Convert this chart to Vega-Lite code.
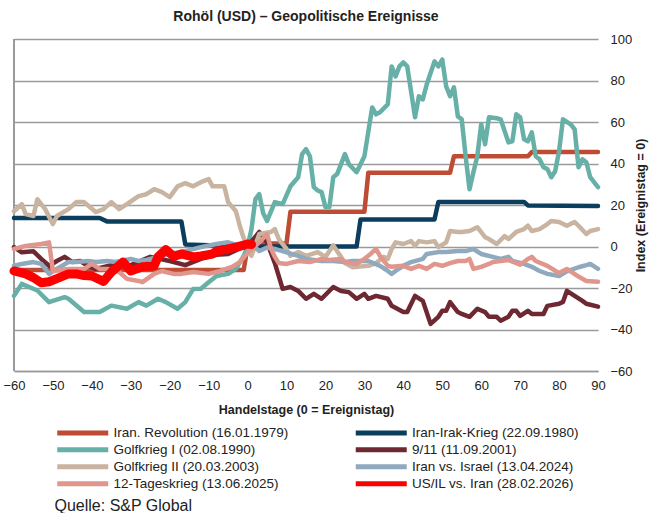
{
  "$schema": "https://vega.github.io/schema/vega-lite/v6.json",
  "width": 584,
  "height": 332,
  "autosize": {"type": "none"},
  "padding": {"left": 14, "top": 39, "right": 52, "bottom": 142},
  "background": "white",
  "config": {"view": {"stroke": null}, "font": "Liberation Sans"},
  "title": {"text": "Rohöl (USD) – Geopolitische Ereignisse", "fontSize": 14, "fontWeight": "bold", "color": "#222222", "anchor": "middle", "offset": 9},
  "datasets": {
    "rows": [
      {"s":"Iran. Revolution (16.01.1979)","d":-60,"v":-11.3},{"s":"Iran. Revolution (16.01.1979)","d":-1,"v":-11.3},{"s":"Iran. Revolution (16.01.1979)","d":0,"v":0},{"s":"Iran. Revolution (16.01.1979)","d":1,"v":1.5},{"s":"Iran. Revolution (16.01.1979)","d":10,"v":1.5},{"s":"Iran. Revolution (16.01.1979)","d":11,"v":16.7},{"s":"Iran. Revolution (16.01.1979)","d":30,"v":16.7},{"s":"Iran. Revolution (16.01.1979)","d":31,"v":35.5},{"s":"Iran. Revolution (16.01.1979)","d":52,"v":35.5},{"s":"Iran. Revolution (16.01.1979)","d":53,"v":43.5},{"s":"Iran. Revolution (16.01.1979)","d":72,"v":43.5},{"s":"Iran. Revolution (16.01.1979)","d":73,"v":45.5},{"s":"Iran. Revolution (16.01.1979)","d":90,"v":45.5},

      {"s":"Iran-Irak-Krieg (22.09.1980)","d":-60,"v":13.7},{"s":"Iran-Irak-Krieg (22.09.1980)","d":-38,"v":13.7},{"s":"Iran-Irak-Krieg (22.09.1980)","d":-36,"v":12},{"s":"Iran-Irak-Krieg (22.09.1980)","d":-17,"v":12},{"s":"Iran-Irak-Krieg (22.09.1980)","d":-16,"v":1},{"s":"Iran-Irak-Krieg (22.09.1980)","d":0,"v":0},{"s":"Iran-Irak-Krieg (22.09.1980)","d":28,"v":0},{"s":"Iran-Irak-Krieg (22.09.1980)","d":29,"v":13},{"s":"Iran-Irak-Krieg (22.09.1980)","d":48,"v":13},{"s":"Iran-Irak-Krieg (22.09.1980)","d":49,"v":21.5},{"s":"Iran-Irak-Krieg (22.09.1980)","d":71,"v":21.5},{"s":"Iran-Irak-Krieg (22.09.1980)","d":72,"v":19.8},{"s":"Iran-Irak-Krieg (22.09.1980)","d":90,"v":19.5},

      {"s":"Golfkrieg I (02.08.1990)","d":-60,"v":-23.8},{"s":"Golfkrieg I (02.08.1990)","d":-58,"v":-18},{"s":"Golfkrieg I (02.08.1990)","d":-54,"v":-21.2},{"s":"Golfkrieg I (02.08.1990)","d":-51,"v":-26.8},{"s":"Golfkrieg I (02.08.1990)","d":-47,"v":-24.4},{"s":"Golfkrieg I (02.08.1990)","d":-46,"v":-25.2},{"s":"Golfkrieg I (02.08.1990)","d":-42,"v":-31.6},{"s":"Golfkrieg I (02.08.1990)","d":-38,"v":-31.6},{"s":"Golfkrieg I (02.08.1990)","d":-35,"v":-28.5},{"s":"Golfkrieg I (02.08.1990)","d":-31,"v":-30},{"s":"Golfkrieg I (02.08.1990)","d":-28,"v":-26.8},{"s":"Golfkrieg I (02.08.1990)","d":-26,"v":-28.5},{"s":"Golfkrieg I (02.08.1990)","d":-23,"v":-25.2},{"s":"Golfkrieg I (02.08.1990)","d":-21,"v":-26.8},{"s":"Golfkrieg I (02.08.1990)","d":-18,"v":-30},{"s":"Golfkrieg I (02.08.1990)","d":-16,"v":-26.8},{"s":"Golfkrieg I (02.08.1990)","d":-14,"v":-20.5},{"s":"Golfkrieg I (02.08.1990)","d":-12,"v":-20.4},{"s":"Golfkrieg I (02.08.1990)","d":-10,"v":-17.2},{"s":"Golfkrieg I (02.08.1990)","d":-8,"v":-14.2},{"s":"Golfkrieg I (02.08.1990)","d":-5,"v":-13.2},{"s":"Golfkrieg I (02.08.1990)","d":-3,"v":-10.8},{"s":"Golfkrieg I (02.08.1990)","d":-1,"v":-4.5},{"s":"Golfkrieg I (02.08.1990)","d":0,"v":0},{"s":"Golfkrieg I (02.08.1990)","d":1,"v":8.4},{"s":"Golfkrieg I (02.08.1990)","d":2,"v":22.8},{"s":"Golfkrieg I (02.08.1990)","d":3,"v":25.2},{"s":"Golfkrieg I (02.08.1990)","d":4,"v":16},{"s":"Golfkrieg I (02.08.1990)","d":5,"v":12.3},{"s":"Golfkrieg I (02.08.1990)","d":7,"v":21.4},{"s":"Golfkrieg I (02.08.1990)","d":9,"v":20.4},{"s":"Golfkrieg I (02.08.1990)","d":11,"v":29},{"s":"Golfkrieg I (02.08.1990)","d":13,"v":33.4},{"s":"Golfkrieg I (02.08.1990)","d":14,"v":44.5},{"s":"Golfkrieg I (02.08.1990)","d":15,"v":46.9},{"s":"Golfkrieg I (02.08.1990)","d":16,"v":43.5},{"s":"Golfkrieg I (02.08.1990)","d":17,"v":28.6},{"s":"Golfkrieg I (02.08.1990)","d":18,"v":27},{"s":"Golfkrieg I (02.08.1990)","d":19,"v":26.2},{"s":"Golfkrieg I (02.08.1990)","d":20,"v":19},{"s":"Golfkrieg I (02.08.1990)","d":21,"v":19},{"s":"Golfkrieg I (02.08.1990)","d":22,"v":33.4},{"s":"Golfkrieg I (02.08.1990)","d":23,"v":34.9},{"s":"Golfkrieg I (02.08.1990)","d":25,"v":44.5},{"s":"Golfkrieg I (02.08.1990)","d":26,"v":39.7},{"s":"Golfkrieg I (02.08.1990)","d":28,"v":35.8},{"s":"Golfkrieg I (02.08.1990)","d":30,"v":43.5},{"s":"Golfkrieg I (02.08.1990)","d":32,"v":67},{"s":"Golfkrieg I (02.08.1990)","d":33,"v":63.7},{"s":"Golfkrieg I (02.08.1990)","d":34,"v":64.7},{"s":"Golfkrieg I (02.08.1990)","d":36,"v":68.5},{"s":"Golfkrieg I (02.08.1990)","d":37,"v":86.8},{"s":"Golfkrieg I (02.08.1990)","d":38,"v":82},{"s":"Golfkrieg I (02.08.1990)","d":39,"v":86.8},{"s":"Golfkrieg I (02.08.1990)","d":40,"v":88.7},{"s":"Golfkrieg I (02.08.1990)","d":41,"v":86.8},{"s":"Golfkrieg I (02.08.1990)","d":43,"v":62.3},{"s":"Golfkrieg I (02.08.1990)","d":44,"v":72.4},{"s":"Golfkrieg I (02.08.1990)","d":45,"v":70.9},{"s":"Golfkrieg I (02.08.1990)","d":46,"v":78.1},{"s":"Golfkrieg I (02.08.1990)","d":48,"v":89.2},{"s":"Golfkrieg I (02.08.1990)","d":49,"v":86.8},{"s":"Golfkrieg I (02.08.1990)","d":50,"v":90.1},{"s":"Golfkrieg I (02.08.1990)","d":51,"v":77.2},{"s":"Golfkrieg I (02.08.1990)","d":52,"v":72.4},{"s":"Golfkrieg I (02.08.1990)","d":53,"v":76.7},{"s":"Golfkrieg I (02.08.1990)","d":54,"v":62.7},{"s":"Golfkrieg I (02.08.1990)","d":55,"v":61.3},{"s":"Golfkrieg I (02.08.1990)","d":56,"v":43.5},{"s":"Golfkrieg I (02.08.1990)","d":57,"v":27.6},{"s":"Golfkrieg I (02.08.1990)","d":58,"v":35.8},{"s":"Golfkrieg I (02.08.1990)","d":59,"v":43.5},{"s":"Golfkrieg I (02.08.1990)","d":60,"v":58.9},{"s":"Golfkrieg I (02.08.1990)","d":61,"v":49.3},{"s":"Golfkrieg I (02.08.1990)","d":62,"v":62.3},{"s":"Golfkrieg I (02.08.1990)","d":64,"v":61.8},{"s":"Golfkrieg I (02.08.1990)","d":65,"v":61.3},{"s":"Golfkrieg I (02.08.1990)","d":67,"v":50.2},{"s":"Golfkrieg I (02.08.1990)","d":68,"v":50.7},{"s":"Golfkrieg I (02.08.1990)","d":69,"v":63.7},{"s":"Golfkrieg I (02.08.1990)","d":70,"v":62.3},{"s":"Golfkrieg I (02.08.1990)","d":71,"v":51.7},{"s":"Golfkrieg I (02.08.1990)","d":72,"v":50.7},{"s":"Golfkrieg I (02.08.1990)","d":73,"v":55},{"s":"Golfkrieg I (02.08.1990)","d":74,"v":43.5},{"s":"Golfkrieg I (02.08.1990)","d":75,"v":42},{"s":"Golfkrieg I (02.08.1990)","d":76,"v":38.2},{"s":"Golfkrieg I (02.08.1990)","d":77,"v":37.3},{"s":"Golfkrieg I (02.08.1990)","d":78,"v":33.4},{"s":"Golfkrieg I (02.08.1990)","d":79,"v":36.3},{"s":"Golfkrieg I (02.08.1990)","d":80,"v":45.9},{"s":"Golfkrieg I (02.08.1990)","d":81,"v":61.3},{"s":"Golfkrieg I (02.08.1990)","d":83,"v":58.9},{"s":"Golfkrieg I (02.08.1990)","d":84,"v":56.5},{"s":"Golfkrieg I (02.08.1990)","d":85,"v":38.2},{"s":"Golfkrieg I (02.08.1990)","d":86,"v":42},{"s":"Golfkrieg I (02.08.1990)","d":87,"v":40.6},{"s":"Golfkrieg I (02.08.1990)","d":88,"v":33.4},{"s":"Golfkrieg I (02.08.1990)","d":90,"v":28.6},

      {"s":"9/11 (11.09.2001)","d":-60,"v":-0.3},{"s":"9/11 (11.09.2001)","d":-58,"v":-2.8},{"s":"9/11 (11.09.2001)","d":-55,"v":-2.3},{"s":"9/11 (11.09.2001)","d":-53,"v":-6},{"s":"9/11 (11.09.2001)","d":-51,"v":-9.3},{"s":"9/11 (11.09.2001)","d":-49,"v":-7},{"s":"9/11 (11.09.2001)","d":-47,"v":-5},{"s":"9/11 (11.09.2001)","d":-45,"v":-7.5},{"s":"9/11 (11.09.2001)","d":-43,"v":-7},{"s":"9/11 (11.09.2001)","d":-41,"v":-9.3},{"s":"9/11 (11.09.2001)","d":-39,"v":-10.8},{"s":"9/11 (11.09.2001)","d":-35,"v":-9},{"s":"9/11 (11.09.2001)","d":-30,"v":-9},{"s":"9/11 (11.09.2001)","d":-25,"v":-5},{"s":"9/11 (11.09.2001)","d":-20,"v":-7},{"s":"9/11 (11.09.2001)","d":-16,"v":-9},{"s":"9/11 (11.09.2001)","d":-12,"v":-6},{"s":"9/11 (11.09.2001)","d":-8,"v":-4},{"s":"9/11 (11.09.2001)","d":-5,"v":-3.6},{"s":"9/11 (11.09.2001)","d":-2,"v":-1},{"s":"9/11 (11.09.2001)","d":0,"v":0},{"s":"9/11 (11.09.2001)","d":3,"v":7},{"s":"9/11 (11.09.2001)","d":5,"v":2},{"s":"9/11 (11.09.2001)","d":7,"v":-8},{"s":"9/11 (11.09.2001)","d":9,"v":-20.4},{"s":"9/11 (11.09.2001)","d":11,"v":-19.5},{"s":"9/11 (11.09.2001)","d":13,"v":-21.4},{"s":"9/11 (11.09.2001)","d":15,"v":-25.2},{"s":"9/11 (11.09.2001)","d":17,"v":-22.8},{"s":"9/11 (11.09.2001)","d":19,"v":-25.2},{"s":"9/11 (11.09.2001)","d":22,"v":-19.5},{"s":"9/11 (11.09.2001)","d":24,"v":-21.4},{"s":"9/11 (11.09.2001)","d":26,"v":-22},{"s":"9/11 (11.09.2001)","d":28,"v":-25.2},{"s":"9/11 (11.09.2001)","d":30,"v":-22.8},{"s":"9/11 (11.09.2001)","d":31,"v":-25.2},{"s":"9/11 (11.09.2001)","d":33,"v":-23.8},{"s":"9/11 (11.09.2001)","d":36,"v":-25.2},{"s":"9/11 (11.09.2001)","d":37,"v":-28.6},{"s":"9/11 (11.09.2001)","d":40,"v":-31.6},{"s":"9/11 (11.09.2001)","d":41,"v":-31.6},{"s":"9/11 (11.09.2001)","d":43,"v":-23.8},{"s":"9/11 (11.09.2001)","d":45,"v":-26.2},{"s":"9/11 (11.09.2001)","d":47,"v":-37.3},{"s":"9/11 (11.09.2001)","d":49,"v":-33.9},{"s":"9/11 (11.09.2001)","d":50,"v":-31},{"s":"9/11 (11.09.2001)","d":51,"v":-31},{"s":"9/11 (11.09.2001)","d":52,"v":-26.8},{"s":"9/11 (11.09.2001)","d":54,"v":-31.6},{"s":"9/11 (11.09.2001)","d":55,"v":-32.5},{"s":"9/11 (11.09.2001)","d":57,"v":-33.9},{"s":"9/11 (11.09.2001)","d":59,"v":-30},{"s":"9/11 (11.09.2001)","d":61,"v":-31.6},{"s":"9/11 (11.09.2001)","d":62,"v":-33.9},{"s":"9/11 (11.09.2001)","d":64,"v":-33.9},{"s":"9/11 (11.09.2001)","d":65,"v":-35.8},{"s":"9/11 (11.09.2001)","d":67,"v":-33.9},{"s":"9/11 (11.09.2001)","d":68,"v":-31},{"s":"9/11 (11.09.2001)","d":69,"v":-31},{"s":"9/11 (11.09.2001)","d":70,"v":-33.4},{"s":"9/11 (11.09.2001)","d":72,"v":-31},{"s":"9/11 (11.09.2001)","d":73,"v":-32.5},{"s":"9/11 (11.09.2001)","d":76,"v":-32.5},{"s":"9/11 (11.09.2001)","d":77,"v":-28.6},{"s":"9/11 (11.09.2001)","d":80,"v":-27.6},{"s":"9/11 (11.09.2001)","d":81,"v":-26.7},{"s":"9/11 (11.09.2001)","d":82,"v":-21.4},{"s":"9/11 (11.09.2001)","d":84,"v":-23.8},{"s":"9/11 (11.09.2001)","d":86,"v":-26.2},{"s":"9/11 (11.09.2001)","d":87,"v":-27.6},{"s":"9/11 (11.09.2001)","d":90,"v":-29},

      {"s":"Golfkrieg II (20.03.2003)","d":-60,"v":17},{"s":"Golfkrieg II (20.03.2003)","d":-58,"v":20.4},{"s":"Golfkrieg II (20.03.2003)","d":-57,"v":15.6},{"s":"Golfkrieg II (20.03.2003)","d":-55,"v":14.7},{"s":"Golfkrieg II (20.03.2003)","d":-54,"v":22.8},{"s":"Golfkrieg II (20.03.2003)","d":-52,"v":18},{"s":"Golfkrieg II (20.03.2003)","d":-50,"v":10.8},{"s":"Golfkrieg II (20.03.2003)","d":-49,"v":14.7},{"s":"Golfkrieg II (20.03.2003)","d":-46,"v":18},{"s":"Golfkrieg II (20.03.2003)","d":-44,"v":21.4},{"s":"Golfkrieg II (20.03.2003)","d":-42,"v":21.4},{"s":"Golfkrieg II (20.03.2003)","d":-39,"v":16.6},{"s":"Golfkrieg II (20.03.2003)","d":-37,"v":18},{"s":"Golfkrieg II (20.03.2003)","d":-35,"v":21.4},{"s":"Golfkrieg II (20.03.2003)","d":-33,"v":18},{"s":"Golfkrieg II (20.03.2003)","d":-31,"v":20.4},{"s":"Golfkrieg II (20.03.2003)","d":-28,"v":24.3},{"s":"Golfkrieg II (20.03.2003)","d":-26,"v":25.2},{"s":"Golfkrieg II (20.03.2003)","d":-24,"v":27.6},{"s":"Golfkrieg II (20.03.2003)","d":-22,"v":26.2},{"s":"Golfkrieg II (20.03.2003)","d":-20,"v":23.8},{"s":"Golfkrieg II (20.03.2003)","d":-18,"v":29},{"s":"Golfkrieg II (20.03.2003)","d":-16,"v":30.5},{"s":"Golfkrieg II (20.03.2003)","d":-14,"v":29},{"s":"Golfkrieg II (20.03.2003)","d":-12,"v":31},{"s":"Golfkrieg II (20.03.2003)","d":-10,"v":32.5},{"s":"Golfkrieg II (20.03.2003)","d":-9,"v":29},{"s":"Golfkrieg II (20.03.2003)","d":-6,"v":29},{"s":"Golfkrieg II (20.03.2003)","d":-5,"v":21.4},{"s":"Golfkrieg II (20.03.2003)","d":-3,"v":17},{"s":"Golfkrieg II (20.03.2003)","d":-2,"v":9.9},{"s":"Golfkrieg II (20.03.2003)","d":-1,"v":4},{"s":"Golfkrieg II (20.03.2003)","d":0,"v":0},{"s":"Golfkrieg II (20.03.2003)","d":1,"v":-4.5},{"s":"Golfkrieg II (20.03.2003)","d":3,"v":6},{"s":"Golfkrieg II (20.03.2003)","d":6,"v":7},{"s":"Golfkrieg II (20.03.2003)","d":7,"v":8.4},{"s":"Golfkrieg II (20.03.2003)","d":8,"v":3.6},{"s":"Golfkrieg II (20.03.2003)","d":10,"v":-1.2},{"s":"Golfkrieg II (20.03.2003)","d":11,"v":-4.5},{"s":"Golfkrieg II (20.03.2003)","d":13,"v":-2.7},{"s":"Golfkrieg II (20.03.2003)","d":15,"v":-4.5},{"s":"Golfkrieg II (20.03.2003)","d":18,"v":-2.7},{"s":"Golfkrieg II (20.03.2003)","d":20,"v":-5},{"s":"Golfkrieg II (20.03.2003)","d":22,"v":0.5},{"s":"Golfkrieg II (20.03.2003)","d":24,"v":-5},{"s":"Golfkrieg II (20.03.2003)","d":25,"v":-8},{"s":"Golfkrieg II (20.03.2003)","d":27,"v":-10},{"s":"Golfkrieg II (20.03.2003)","d":31,"v":-9.3},{"s":"Golfkrieg II (20.03.2003)","d":33,"v":-8},{"s":"Golfkrieg II (20.03.2003)","d":35,"v":-5},{"s":"Golfkrieg II (20.03.2003)","d":36,"v":-6},{"s":"Golfkrieg II (20.03.2003)","d":37,"v":-1.2},{"s":"Golfkrieg II (20.03.2003)","d":38,"v":2},{"s":"Golfkrieg II (20.03.2003)","d":40,"v":1.2},{"s":"Golfkrieg II (20.03.2003)","d":42,"v":2.6},{"s":"Golfkrieg II (20.03.2003)","d":43,"v":0.3},{"s":"Golfkrieg II (20.03.2003)","d":44,"v":2.6},{"s":"Golfkrieg II (20.03.2003)","d":46,"v":2},{"s":"Golfkrieg II (20.03.2003)","d":48,"v":2.6},{"s":"Golfkrieg II (20.03.2003)","d":49,"v":-0.3},{"s":"Golfkrieg II (20.03.2003)","d":51,"v":2},{"s":"Golfkrieg II (20.03.2003)","d":52,"v":7.5},{"s":"Golfkrieg II (20.03.2003)","d":54,"v":7},{"s":"Golfkrieg II (20.03.2003)","d":55,"v":7},{"s":"Golfkrieg II (20.03.2003)","d":57,"v":7.5},{"s":"Golfkrieg II (20.03.2003)","d":59,"v":9.3},{"s":"Golfkrieg II (20.03.2003)","d":61,"v":4.5},{"s":"Golfkrieg II (20.03.2003)","d":62,"v":3.6},{"s":"Golfkrieg II (20.03.2003)","d":64,"v":1.2},{"s":"Golfkrieg II (20.03.2003)","d":66,"v":5},{"s":"Golfkrieg II (20.03.2003)","d":67,"v":3.6},{"s":"Golfkrieg II (20.03.2003)","d":69,"v":7},{"s":"Golfkrieg II (20.03.2003)","d":71,"v":8.4},{"s":"Golfkrieg II (20.03.2003)","d":72,"v":10},{"s":"Golfkrieg II (20.03.2003)","d":73,"v":7.5},{"s":"Golfkrieg II (20.03.2003)","d":75,"v":8.4},{"s":"Golfkrieg II (20.03.2003)","d":77,"v":10.8},{"s":"Golfkrieg II (20.03.2003)","d":78,"v":12.3},{"s":"Golfkrieg II (20.03.2003)","d":80,"v":11.8},{"s":"Golfkrieg II (20.03.2003)","d":82,"v":10},{"s":"Golfkrieg II (20.03.2003)","d":84,"v":11.8},{"s":"Golfkrieg II (20.03.2003)","d":85,"v":10},{"s":"Golfkrieg II (20.03.2003)","d":87,"v":6},{"s":"Golfkrieg II (20.03.2003)","d":88,"v":7.5},{"s":"Golfkrieg II (20.03.2003)","d":90,"v":8.4},

      {"s":"Iran vs. Israel (13.04.2024)","d":-60,"v":-9.3},{"s":"Iran vs. Israel (13.04.2024)","d":-58,"v":-8.4},{"s":"Iran vs. Israel (13.04.2024)","d":-55,"v":-7.5},{"s":"Iran vs. Israel (13.04.2024)","d":-53,"v":-8.4},{"s":"Iran vs. Israel (13.04.2024)","d":-51,"v":-13.2},{"s":"Iran vs. Israel (13.04.2024)","d":-49,"v":-10.8},{"s":"Iran vs. Israel (13.04.2024)","d":-46,"v":-7.5},{"s":"Iran vs. Israel (13.04.2024)","d":-44,"v":-7.5},{"s":"Iran vs. Israel (13.04.2024)","d":-41,"v":-7},{"s":"Iran vs. Israel (13.04.2024)","d":-39,"v":-7.5},{"s":"Iran vs. Israel (13.04.2024)","d":-36,"v":-7},{"s":"Iran vs. Israel (13.04.2024)","d":-34,"v":-7.5},{"s":"Iran vs. Israel (13.04.2024)","d":-30,"v":-6},{"s":"Iran vs. Israel (13.04.2024)","d":-28,"v":-7},{"s":"Iran vs. Israel (13.04.2024)","d":-26,"v":-6.5},{"s":"Iran vs. Israel (13.04.2024)","d":-23,"v":-5},{"s":"Iran vs. Israel (13.04.2024)","d":-20,"v":-3.6},{"s":"Iran vs. Israel (13.04.2024)","d":-16,"v":-2.2},{"s":"Iran vs. Israel (13.04.2024)","d":-12,"v":-0.3},{"s":"Iran vs. Israel (13.04.2024)","d":-8,"v":1.2},{"s":"Iran vs. Israel (13.04.2024)","d":-5,"v":2},{"s":"Iran vs. Israel (13.04.2024)","d":-1,"v":-0.3},{"s":"Iran vs. Israel (13.04.2024)","d":0,"v":0},{"s":"Iran vs. Israel (13.04.2024)","d":1,"v":1.2},{"s":"Iran vs. Israel (13.04.2024)","d":3,"v":-2.2},{"s":"Iran vs. Israel (13.04.2024)","d":5,"v":-0.5},{"s":"Iran vs. Israel (13.04.2024)","d":7,"v":-1.2},{"s":"Iran vs. Israel (13.04.2024)","d":9,"v":-2.2},{"s":"Iran vs. Israel (13.04.2024)","d":13,"v":-4.5},{"s":"Iran vs. Israel (13.04.2024)","d":15,"v":-6},{"s":"Iran vs. Israel (13.04.2024)","d":19,"v":-7},{"s":"Iran vs. Israel (13.04.2024)","d":22,"v":-7},{"s":"Iran vs. Israel (13.04.2024)","d":25,"v":-7.5},{"s":"Iran vs. Israel (13.04.2024)","d":27,"v":-7},{"s":"Iran vs. Israel (13.04.2024)","d":31,"v":-7},{"s":"Iran vs. Israel (13.04.2024)","d":34,"v":-9.3},{"s":"Iran vs. Israel (13.04.2024)","d":36,"v":-11.8},{"s":"Iran vs. Israel (13.04.2024)","d":37,"v":-13.2},{"s":"Iran vs. Israel (13.04.2024)","d":38,"v":-11.8},{"s":"Iran vs. Israel (13.04.2024)","d":40,"v":-9.3},{"s":"Iran vs. Israel (13.04.2024)","d":42,"v":-7.5},{"s":"Iran vs. Israel (13.04.2024)","d":45,"v":-6},{"s":"Iran vs. Israel (13.04.2024)","d":46,"v":-3.6},{"s":"Iran vs. Israel (13.04.2024)","d":49,"v":-2.7},{"s":"Iran vs. Israel (13.04.2024)","d":51,"v":-2.7},{"s":"Iran vs. Israel (13.04.2024)","d":54,"v":-2.2},{"s":"Iran vs. Israel (13.04.2024)","d":56,"v":-2.2},{"s":"Iran vs. Israel (13.04.2024)","d":58,"v":-1.2},{"s":"Iran vs. Israel (13.04.2024)","d":60,"v":-3.6},{"s":"Iran vs. Israel (13.04.2024)","d":63,"v":-5},{"s":"Iran vs. Israel (13.04.2024)","d":65,"v":-6},{"s":"Iran vs. Israel (13.04.2024)","d":67,"v":-5},{"s":"Iran vs. Israel (13.04.2024)","d":68,"v":-7},{"s":"Iran vs. Israel (13.04.2024)","d":71,"v":-8.4},{"s":"Iran vs. Israel (13.04.2024)","d":73,"v":-9.8},{"s":"Iran vs. Israel (13.04.2024)","d":75,"v":-11.8},{"s":"Iran vs. Israel (13.04.2024)","d":77,"v":-13.2},{"s":"Iran vs. Israel (13.04.2024)","d":80,"v":-14.2},{"s":"Iran vs. Israel (13.04.2024)","d":82,"v":-12},{"s":"Iran vs. Israel (13.04.2024)","d":85,"v":-10},{"s":"Iran vs. Israel (13.04.2024)","d":87,"v":-9},{"s":"Iran vs. Israel (13.04.2024)","d":88,"v":-8.4},{"s":"Iran vs. Israel (13.04.2024)","d":90,"v":-10.8},

      {"s":"12-Tageskrieg (13.06.2025)","d":-60,"v":-1.2},{"s":"12-Tageskrieg (13.06.2025)","d":-57,"v":0.3},{"s":"12-Tageskrieg (13.06.2025)","d":-53,"v":1.2},{"s":"12-Tageskrieg (13.06.2025)","d":-51,"v":2},{"s":"12-Tageskrieg (13.06.2025)","d":-50,"v":-11.8},{"s":"12-Tageskrieg (13.06.2025)","d":-46,"v":-10.8},{"s":"12-Tageskrieg (13.06.2025)","d":-42,"v":-10.8},{"s":"12-Tageskrieg (13.06.2025)","d":-40,"v":-8.4},{"s":"12-Tageskrieg (13.06.2025)","d":-38,"v":-10.8},{"s":"12-Tageskrieg (13.06.2025)","d":-36,"v":-10.8},{"s":"12-Tageskrieg (13.06.2025)","d":-33,"v":-12.3},{"s":"12-Tageskrieg (13.06.2025)","d":-31,"v":-15.6},{"s":"12-Tageskrieg (13.06.2025)","d":-28,"v":-16.6},{"s":"12-Tageskrieg (13.06.2025)","d":-27,"v":-17.2},{"s":"12-Tageskrieg (13.06.2025)","d":-24,"v":-13.2},{"s":"12-Tageskrieg (13.06.2025)","d":-22,"v":-11.8},{"s":"12-Tageskrieg (13.06.2025)","d":-21,"v":-12.3},{"s":"12-Tageskrieg (13.06.2025)","d":-19,"v":-13.2},{"s":"12-Tageskrieg (13.06.2025)","d":-17,"v":-13.2},{"s":"12-Tageskrieg (13.06.2025)","d":-14,"v":-12.3},{"s":"12-Tageskrieg (13.06.2025)","d":-10,"v":-13.2},{"s":"12-Tageskrieg (13.06.2025)","d":-7,"v":-11.8},{"s":"12-Tageskrieg (13.06.2025)","d":-4,"v":-9.8},{"s":"12-Tageskrieg (13.06.2025)","d":-2,"v":-7.5},{"s":"12-Tageskrieg (13.06.2025)","d":0,"v":-3},{"s":"12-Tageskrieg (13.06.2025)","d":3,"v":2},{"s":"12-Tageskrieg (13.06.2025)","d":5,"v":6},{"s":"12-Tageskrieg (13.06.2025)","d":6,"v":-1},{"s":"12-Tageskrieg (13.06.2025)","d":7,"v":-5},{"s":"12-Tageskrieg (13.06.2025)","d":8,"v":-8},{"s":"12-Tageskrieg (13.06.2025)","d":10,"v":-8.4},{"s":"12-Tageskrieg (13.06.2025)","d":13,"v":-7},{"s":"12-Tageskrieg (13.06.2025)","d":16,"v":-7.5},{"s":"12-Tageskrieg (13.06.2025)","d":19,"v":-6},{"s":"12-Tageskrieg (13.06.2025)","d":21,"v":-6.5},{"s":"12-Tageskrieg (13.06.2025)","d":24,"v":-6},{"s":"12-Tageskrieg (13.06.2025)","d":25,"v":-7.5},{"s":"12-Tageskrieg (13.06.2025)","d":28,"v":-8.4},{"s":"12-Tageskrieg (13.06.2025)","d":30,"v":-6},{"s":"12-Tageskrieg (13.06.2025)","d":31,"v":-4.5},{"s":"12-Tageskrieg (13.06.2025)","d":33,"v":-1.2},{"s":"12-Tageskrieg (13.06.2025)","d":34,"v":-4.5},{"s":"12-Tageskrieg (13.06.2025)","d":36,"v":-9.3},{"s":"12-Tageskrieg (13.06.2025)","d":37,"v":-9.8},{"s":"12-Tageskrieg (13.06.2025)","d":40,"v":-9.3},{"s":"12-Tageskrieg (13.06.2025)","d":42,"v":-10.8},{"s":"12-Tageskrieg (13.06.2025)","d":44,"v":-9.3},{"s":"12-Tageskrieg (13.06.2025)","d":46,"v":-10.8},{"s":"12-Tageskrieg (13.06.2025)","d":48,"v":-8.4},{"s":"12-Tageskrieg (13.06.2025)","d":50,"v":-9.3},{"s":"12-Tageskrieg (13.06.2025)","d":52,"v":-8},{"s":"12-Tageskrieg (13.06.2025)","d":54,"v":-7},{"s":"12-Tageskrieg (13.06.2025)","d":56,"v":-7},{"s":"12-Tageskrieg (13.06.2025)","d":57,"v":-6},{"s":"12-Tageskrieg (13.06.2025)","d":58,"v":-10.8},{"s":"12-Tageskrieg (13.06.2025)","d":60,"v":-9.8},{"s":"12-Tageskrieg (13.06.2025)","d":62,"v":-8.4},{"s":"12-Tageskrieg (13.06.2025)","d":63,"v":-7.5},{"s":"12-Tageskrieg (13.06.2025)","d":65,"v":-7},{"s":"12-Tageskrieg (13.06.2025)","d":67,"v":-6.5},{"s":"12-Tageskrieg (13.06.2025)","d":70,"v":-8.8},{"s":"12-Tageskrieg (13.06.2025)","d":72,"v":-6},{"s":"12-Tageskrieg (13.06.2025)","d":73,"v":-5},{"s":"12-Tageskrieg (13.06.2025)","d":74,"v":-7},{"s":"12-Tageskrieg (13.06.2025)","d":77,"v":-9.3},{"s":"12-Tageskrieg (13.06.2025)","d":80,"v":-12.8},{"s":"12-Tageskrieg (13.06.2025)","d":82,"v":-10.8},{"s":"12-Tageskrieg (13.06.2025)","d":85,"v":-14.5},{"s":"12-Tageskrieg (13.06.2025)","d":87,"v":-16.6},{"s":"12-Tageskrieg (13.06.2025)","d":90,"v":-17},

      {"s":"US/IL vs. Iran (28.02.2026)","d":-60,"v":-11.8},{"s":"US/IL vs. Iran (28.02.2026)","d":-57,"v":-13.2},{"s":"US/IL vs. Iran (28.02.2026)","d":-55,"v":-15},{"s":"US/IL vs. Iran (28.02.2026)","d":-53,"v":-17.5},{"s":"US/IL vs. Iran (28.02.2026)","d":-51,"v":-17},{"s":"US/IL vs. Iran (28.02.2026)","d":-49,"v":-15.5},{"s":"US/IL vs. Iran (28.02.2026)","d":-46,"v":-13.2},{"s":"US/IL vs. Iran (28.02.2026)","d":-44,"v":-13.2},{"s":"US/IL vs. Iran (28.02.2026)","d":-42,"v":-14},{"s":"US/IL vs. Iran (28.02.2026)","d":-40,"v":-14.2},{"s":"US/IL vs. Iran (28.02.2026)","d":-37,"v":-16.8},{"s":"US/IL vs. Iran (28.02.2026)","d":-35,"v":-12.3},{"s":"US/IL vs. Iran (28.02.2026)","d":-32,"v":-7.5},{"s":"US/IL vs. Iran (28.02.2026)","d":-30,"v":-11.8},{"s":"US/IL vs. Iran (28.02.2026)","d":-27,"v":-9.8},{"s":"US/IL vs. Iran (28.02.2026)","d":-24,"v":-9.3},{"s":"US/IL vs. Iran (28.02.2026)","d":-23,"v":-5},{"s":"US/IL vs. Iran (28.02.2026)","d":-21,"v":-1.5},{"s":"US/IL vs. Iran (28.02.2026)","d":-19,"v":-4.8},{"s":"US/IL vs. Iran (28.02.2026)","d":-17,"v":-3.6},{"s":"US/IL vs. Iran (28.02.2026)","d":-14,"v":-5},{"s":"US/IL vs. Iran (28.02.2026)","d":-12,"v":-4.5},{"s":"US/IL vs. Iran (28.02.2026)","d":-9,"v":-3.6},{"s":"US/IL vs. Iran (28.02.2026)","d":-8,"v":-2.2},{"s":"US/IL vs. Iran (28.02.2026)","d":-5,"v":-1.2},{"s":"US/IL vs. Iran (28.02.2026)","d":-3,"v":-0.3},{"s":"US/IL vs. Iran (28.02.2026)","d":0,"v":1.2},{"s":"US/IL vs. Iran (28.02.2026)","d":1,"v":1}
    ]
  },
  "data": {"name": "rows"},
  "encoding": {
    "x": {
      "field": "d", "type": "quantitative",
      "scale": {"domain": [-60, 90], "nice": false, "zero": false},
      "axis": {"values": [-60,-50,-40,-30,-20,-10,0,10,20,30,40,50,60,70,80,90], "grid": false, "ticks": false, "domainColor": "#9a9a9a", "domainWidth": 1.5, "labelFontSize": 13, "labelColor": "#222222", "labelPadding": 8, "labelFlush": false, "labelOverlap": false, "title": "Handelstage (0 = Ereignistag)", "titleFontSize": 12.5, "titleFontWeight": "bold", "titleColor": "#222222", "titlePadding": 11}
    },
    "y": {
      "field": "v", "type": "quantitative",
      "scale": {"domain": [-60, 100], "nice": false, "zero": false},
      "axis": {"orient": "right", "values": [-60,-40,-20,0,20,40,60,80,100], "grid": true, "gridColor": "#9a9a9a", "gridWidth": 1.5, "domain": false, "ticks": false, "labelAlign": "left", "labelPadding": 12, "labelFontSize": 13, "labelColor": "#222222", "title": "Index (Ereignistag = 0)", "titleAngle": 270, "titleFontSize": 12.5, "titleFontWeight": "bold", "titleColor": "#222222", "titlePadding": 15}
    }
  },
  "layer": [
    {"mark": {"type": "rule", "color": "#9a9a9a", "strokeWidth": 1.5}, "encoding": {"x": {"datum": -60}, "y": {"datum": -60}, "y2": {"datum": 100}}},
    {
      "transform": [{"filter": "datum.s !== 'US/IL vs. Iran (28.02.2026)'"}],
      "mark": {"type": "line", "strokeWidth": 4.5, "strokeJoin": "round", "strokeCap": "round"},
      "encoding": {"color": {"field": "s", "type": "nominal"}}
    },
    {
      "transform": [{"filter": "datum.s === 'US/IL vs. Iran (28.02.2026)'"}],
      "mark": {"type": "line", "strokeWidth": 9, "strokeJoin": "round", "strokeCap": "round"},
      "encoding": {
        "color": {
          "field": "s", "type": "nominal",
          "scale": {
            "domain": ["Iran. Revolution (16.01.1979)","Iran-Irak-Krieg (22.09.1980)","Golfkrieg I (02.08.1990)","9/11 (11.09.2001)","Golfkrieg II (20.03.2003)","Iran vs. Israel (13.04.2024)","12-Tageskrieg (13.06.2025)","US/IL vs. Iran (28.02.2026)"],
            "range": ["#BE4B33","#0B3D5C","#67B0A8","#6E2832","#C8B4A0","#8FA9BF","#E0968C","#FF0000"]
          },
          "legend": {"orient": "none", "direction": "horizontal", "legendX": 40.5, "legendY": 387, "columns": 2, "columnPadding": 56.5, "rowPadding": -4, "symbolType": "M-1,0H11.75", "symbolSize": 64, "symbolStrokeWidth": 5, "labelFontSize": 13.5, "labelColor": "#222222", "labelOffset": 45.5, "labelLimit": 300, "title": "Quelle: S&P Global", "titleOrient": "bottom", "titleAnchor": "start", "titleFontSize": 16, "titleFontWeight": "normal", "titleColor": "#222222", "titlePadding": 4, "titleLimit": 500}
        }
      }
    }
  ]
}
